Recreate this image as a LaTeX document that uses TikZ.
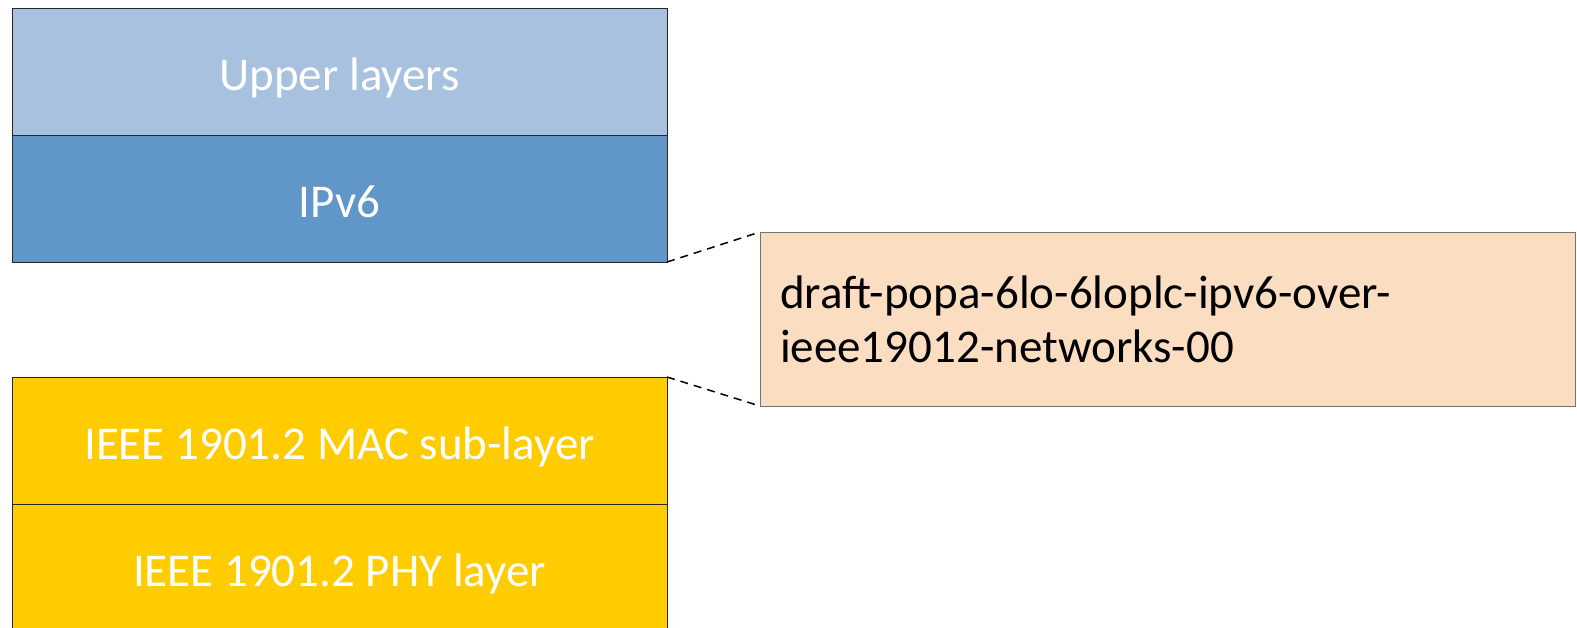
\documentclass[tikz,border=0pt]{standalone}
\usepackage{fontspec}
\setmainfont{Carlito}
\usetikzlibrary{positioning}
\definecolor{upperblue}{RGB}{168,193,223}
\definecolor{ipblue}{RGB}{96,150,200}
\definecolor{plcyellow}{RGB}{255,204,0}
\definecolor{draftpeach}{RGB}{251,221,193}
\tikzset{layer/.style={draw=black!85, line width=1pt, minimum width=655pt, minimum height=127pt, inner sep=0pt, outer sep=0pt, text height=37pt, text depth=0pt, text=white, font=\fontsize{47}{54}\selectfont}}

\begin{document}
\begin{tikzpicture}[x=1pt,y=-1pt]
  \useasboundingbox (0,0) rectangle (1577,627);

  \node [layer, fill=upperblue, anchor=north west] at (12,8) (upper) {Upper layers};
  \node [layer, fill=ipblue, below=0pt of upper] (ipv6) {IPv6};

  \node [layer, fill=plcyellow, anchor=north west] at (12,377) (mac) {IEEE 1901.2 MAC sub-layer};
  \node [layer, fill=plcyellow, below=0pt of mac] (phy) {IEEE 1901.2 PHY layer};

  \node [draw=black!55, line width=1pt, fill=draftpeach, anchor=north west, minimum width=815pt, minimum height=174pt, text width=775pt, inner sep=20pt, outer sep=0pt, align=left, font=\fontsize{47}{54}\selectfont] at (760,232) (draft) {draft-popa-6lo-6loplc-ipv6-over-\\ieee19012-networks-00};

  \draw [dashed, line width=1.5pt, dash pattern=on 8pt off 6pt] (ipv6.south east) -- (draft.north west);
  \draw [dashed, line width=1.5pt, dash pattern=on 8pt off 6pt] (mac.north east) -- (draft.south west);
\end{tikzpicture}
\end{document}
